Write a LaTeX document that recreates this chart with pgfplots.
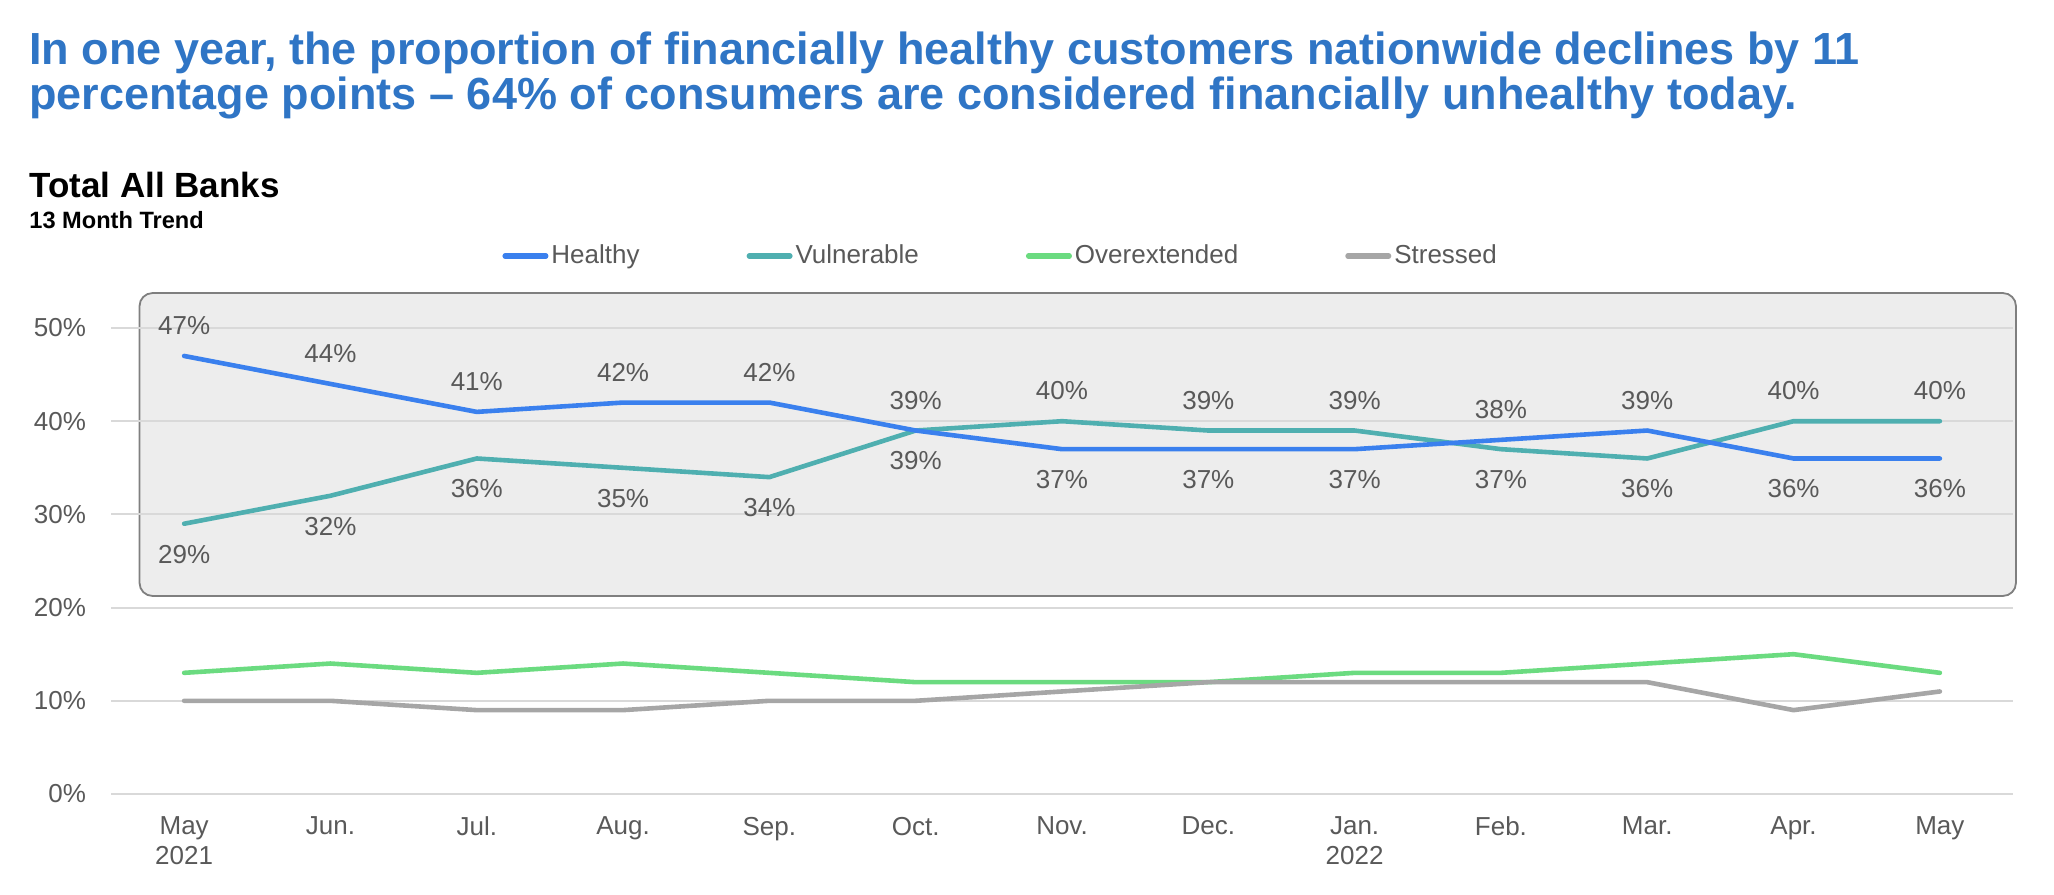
\documentclass[border=0pt]{standalone}
\usepackage{fontspec}
\setmainfont{Liberation Sans}
\usepackage{pgfplots}
\pgfplotsset{compat=1.18}
\usepackage{pgfplotstable}

\definecolor{titleblue}{HTML}{2F75C5}
\definecolor{labelgray}{HTML}{595959}
\definecolor{gridgray}{HTML}{D9D9D9}
\definecolor{boxfill}{HTML}{EDEDED}
\definecolor{boxedge}{HTML}{7F7F7F}
\definecolor{healthy}{HTML}{3A80EE}
\definecolor{vulnerable}{HTML}{4FAFB0}
\definecolor{overext}{HTML}{6BDB80}
\definecolor{stressed}{HTML}{A6A6A6}

% Monthly shares (%) of customers by financial health segment;
% hpos / vpos: +1 puts the value label above the line, -1 below it
\pgfplotstableread{
x healthy hpos vulnerable vpos over stressed
0  47  1 29 -1 13 10
1  44  1 32 -1 14 10
2  41  1 36 -1 13  9
3  42  1 35 -1 14  9
4  42  1 34 -1 13 10
5  39 -1 39  1 12 10
6  37 -1 40  1 12 11
7  37 -1 39  1 12 12
8  37 -1 39  1 13 12
9  38  1 37 -1 13 12
10 39  1 36 -1 14 12
11 36 -1 40  1 15  9
12 36 -1 40  1 13 11
}\trend

\begin{document}
\begin{tikzpicture}

\node[anchor=base west, inner sep=0pt, text=titleblue,
      font=\fontsize{22.5}{24}\selectfont\bfseries] at (-41pt,364.5pt)
  {In one year, the proportion of financially healthy customers nationwide declines by 11};
\node[anchor=base west, inner sep=0pt, text=titleblue,
      font=\fontsize{22.5}{24}\selectfont\bfseries] at (-41pt,342pt)
  {percentage points \textendash\ 64\% of consumers are considered financially unhealthy today.};
\node[anchor=base west, inner sep=0pt, font=\fontsize{17.5}{20}\selectfont\bfseries]
  at (-41pt,298pt) {Total All Banks};
\node[anchor=base west, inner sep=0pt, font=\fontsize{11.8}{14}\selectfont\bfseries]
  at (-41pt,282.5pt) {13 Month Trend};

\begin{axis}[
  at={(0pt,0pt)}, anchor=south west,
  scale only axis, width=951pt, height=233pt,
  xmin=-0.5, xmax=12.5, ymin=0, ymax=50,
  clip=false, set layers,
  axis line style={draw=none},
  major tick length=0pt,
  xtick={0,...,12},
  xticklabels={{May\\2021},Jun.,Jul.,Aug.,Sep.,Oct.,Nov.,Dec.,{Jan.\\2022},Feb.,Mar.,Apr.,May},
  ytick={0,10,20,30,40,50},
  yticklabels={0\%,10\%,20\%,30\%,40\%,50\%},
  ymajorgrids,
  grid style={gridgray, line width=1pt},
  tick label style={font=\fontsize{13}{15}\selectfont, text=labelgray},
  xticklabel style={align=center, yshift=-8pt},
  yticklabel style={xshift=-9pt},
  legend columns=-1,
  legend style={at={(axis description cs:0.2056,1.1545)}, anchor=west,
    draw=none, fill=none, inner sep=0pt,
    font=\fontsize{13}{15}\selectfont, text=labelgray,
    nodes={inner xsep=1.5pt},
    /tikz/every even column/.append style={column sep=52pt}},
  legend image code/.code={\draw[#1, line width=2.6pt, line cap=round] (1.3pt,0pt) -- (21.7pt,0pt);},
  every axis plot/.append style={line join=round, line cap=round},
  value label/.style={
    visualization depends on={\thisrow{#1} \as \lblpos},
    nodes near coords={\pgfmathprintnumber[assume math mode=true]{\pgfplotspointmeta}\%},
    nodes near coords style={anchor=center, yshift=\lblpos*15.2pt,
      font=\fontsize{13}{15}\selectfont, text=labelgray},
  },
]

\begin{pgfonlayer}{axis background}
  \draw[rounded corners=6.5pt, fill=boxfill, draw=boxedge, line width=0.9pt]
    (axis cs:-0.305,21.25) rectangle (axis cs:12.52,53.75);
\end{pgfonlayer}

\addlegendimage{healthy}\addlegendentry{Healthy}
\addlegendimage{vulnerable}\addlegendentry{Vulnerable}
\addlegendimage{overext}\addlegendentry{Overextended}
\addlegendimage{stressed}\addlegendentry{Stressed}

\addplot[forget plot, overext, line width=2.3pt] table[x=x, y=over] {\trend};
\addplot[forget plot, stressed, line width=2.3pt] table[x=x, y=stressed] {\trend};
\addplot[forget plot, vulnerable, line width=2.3pt, value label=vpos] table[x=x, y=vulnerable] {\trend};
\addplot[forget plot, healthy, line width=2.3pt, value label=hpos] table[x=x, y=healthy] {\trend};
\end{axis}

\pgfresetboundingbox
\path[use as bounding box] (-55.5pt,-50pt) rectangle (971.5pt,397pt);
\end{tikzpicture}
\end{document}
